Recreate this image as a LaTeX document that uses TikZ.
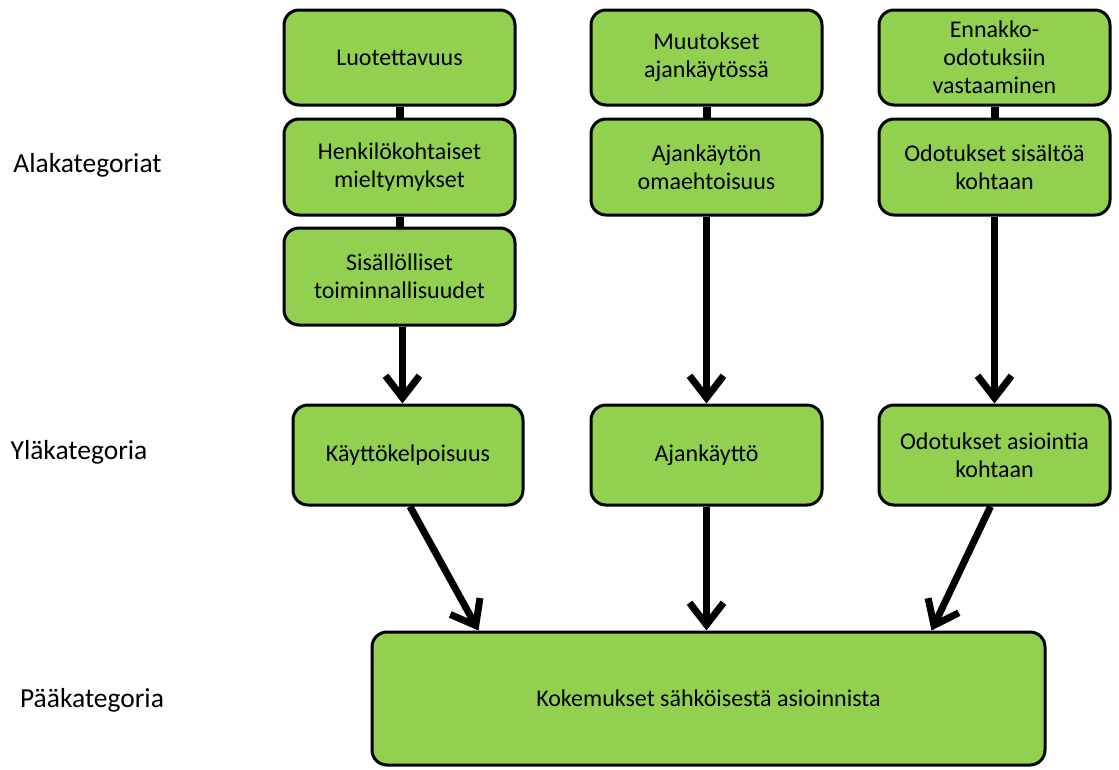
\documentclass[tikz,border=0pt]{standalone}
\usepackage{fontspec}
\setmainfont{Carlito}
\usetikzlibrary{arrows.meta,calc}
\definecolor{boxgreen}{HTML}{92D050}
\begin{document}
\begin{tikzpicture}[x=1pt,y=-1pt,
  box/.style={draw=black, line width=3pt, fill=boxgreen, rounded corners=15pt,
    minimum width=231pt, align=center, inner sep=2pt,
    font=\fontsize{24}{28}\selectfont, text=black},
  link/.style={line width=8pt},
  arr/.style={line width=7pt, -{Straight Barb[length=22pt,width=34pt,line width=7pt]}},
  cat/.style={font=\fontsize{27.5}{32}\selectfont, text=black}]
\useasboundingbox (0,0) rectangle (1119,769);
% column 1
\node[box, minimum height=95pt] (a1) at (399.5,57.5) {Luotettavuus};
\node[box, minimum height=96pt] (a2) at (399.5,167) {Henkilökohtaiset\\mieltymykset};
\node[box, minimum height=97pt] (a3) at (399.5,276.5) {Sisällölliset\\toiminnallisuudet};
\node[box, minimum width=230pt, minimum height=100pt] (y1) at (408,455) {Käyttökelpoisuus};
% column 2
\node[box, minimum height=95pt] (b1) at (706.5,57.5) {Muutokset\\ajankäytössä};
\node[box, minimum height=96pt] (b2) at (706.5,167) {Ajankäytön\\omaehtoisuus};
\node[box, minimum height=100pt] (y2) at (706.5,455) {Ajankäyttö};
% column 3
\node[box, minimum height=95pt] (c1) at (994.5,57.5) {Ennakko-\\odotuksiin\\vastaaminen};
\node[box, minimum height=96pt] (c2) at (994.5,167) {Odotukset sisältöä\\kohtaan};
\node[box, minimum height=100pt] (y3) at (994.5,455) {Odotukset asiointia\\kohtaan};
% main
\node[box, minimum width=673pt, minimum height=133pt] (m) at (708.5,698.5) {Kokemukset sähköisestä asioinnista};
% labels
\node[cat] (l1) at (87.5,165) {Alakategoriat};
\node[cat] (l2) at (79,452) {Yläkategoria};
\node[cat] (l3) at (92,700) {Pääkategoria};
% connectors
\draw[link] (a1.south) -- (a2.north);
\draw[link] (a2.south) -- (a3.north);
\draw[link] (b1.south) -- (b2.north);
\draw[link] (c1.south) -- (c2.north);
\coordinate (a3b) at ([xshift=3pt]a3.south);
\draw[arr] (a3b) -- (a3b |- y1.north);
\draw[arr] (b2.south) -- (y2.north);
\draw[arr] (c2.south) -- (y3.north);
\coordinate (s1) at ([xshift=2pt]y1.south);
\coordinate (e1) at ([xshift=108pt]m.north west);
\coordinate (s3) at ([xshift=-4pt]y3.south);
\coordinate (e3) at ([xshift=-115pt]m.north east);
\draw[arr] (s1) -- (e1);
\draw[arr] (y2.south) -- (y2.south |- m.north);
\draw[arr] (s3) -- (e3);
\end{tikzpicture}
\end{document}
